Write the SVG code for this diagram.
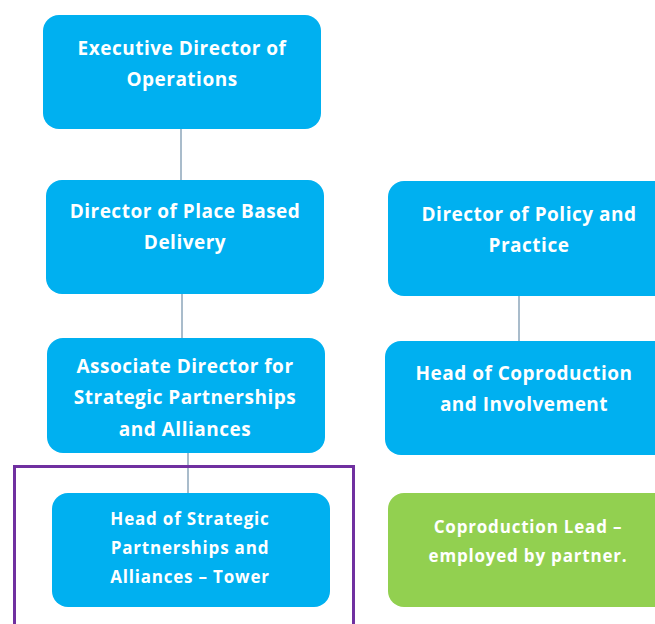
<svg xmlns="http://www.w3.org/2000/svg" width="655" height="624" viewBox="0 0 655 624">
  <style>
    .box { fill: #00B0F0; }
    .lead { fill: #92D050; }
    .lbl { font-family: "Open Sans", "Liberation Sans", sans-serif; font-weight: 700; fill: #FFFFFF; text-anchor: middle; font-size: 19px; letter-spacing: 0.5px; }
    .sm { font-size: 17px; letter-spacing: 0.8px; }
    .link { stroke: #A9BCCB; stroke-width: 2; fill: none; }
  </style>
  <rect width="655" height="624" fill="#FFFFFF"/>

  <g id="connectors">
    <line class="link" x1="181" y1="128" x2="181" y2="181"/>
    <line class="link" x1="182" y1="293" x2="182" y2="339"/>
    <line class="link" x1="188" y1="452" x2="188" y2="494"/>
    <line class="link" x1="519" y1="295" x2="519" y2="342"/>
  </g>

  <g id="tower-frame">
    <rect x="14.5" y="466.5" width="339" height="170" fill="none" stroke="#7030A0" stroke-width="3"/>
  </g>

  <g id="exec-director">
    <rect class="box" x="43" y="15" width="278" height="114" rx="16"/>
    <text class="lbl" x="182" y="55">Executive Director of</text>
    <text class="lbl" x="182" y="86">Operations</text>
  </g>

  <g id="place-director">
    <rect class="box" x="46" y="180" width="278" height="114" rx="16"/>
    <text class="lbl" x="185" y="218">Director of Place Based</text>
    <text class="lbl" x="185" y="249">Delivery</text>
  </g>

  <g id="assoc-director">
    <rect class="box" x="47" y="338" width="278" height="115" rx="16"/>
    <text class="lbl" x="185" y="373">Associate Director for</text>
    <text class="lbl" x="185" y="404">Strategic Partnerships</text>
    <text class="lbl" x="185" y="436">and Alliances</text>
  </g>

  <g id="head-partnerships">
    <rect class="box" x="52" y="493" width="278" height="114" rx="16"/>
    <text class="lbl sm" x="190" y="525">Head of Strategic</text>
    <text class="lbl sm" x="190" y="554">Partnerships and</text>
    <text class="lbl sm" x="190" y="583">Alliances – Tower</text>
  </g>

  <g id="policy-director">
    <rect class="box" x="388" y="181" width="290" height="115" rx="16"/>
    <text class="lbl" x="529" y="221">Director of Policy and</text>
    <text class="lbl" x="529" y="252">Practice</text>
  </g>

  <g id="head-coproduction">
    <rect class="box" x="385" y="341" width="290" height="114" rx="16"/>
    <text class="lbl" x="524" y="380">Head of Coproduction</text>
    <text class="lbl" x="524" y="411">and Involvement</text>
  </g>

  <g id="coproduction-lead">
    <rect class="lead" x="388" y="493" width="290" height="114" rx="16"/>
    <text class="lbl sm" x="528" y="533">Coproduction Lead –</text>
    <text class="lbl sm" x="528" y="562">employed by partner.</text>
  </g>
</svg>
